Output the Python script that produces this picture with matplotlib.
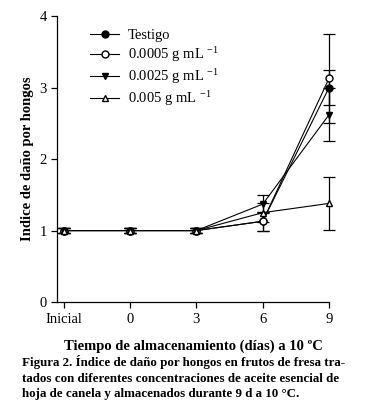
import matplotlib
matplotlib.use("Agg")
import matplotlib.pyplot as plt

plt.rcParams['font.family'] = ['Liberation Serif', 'DejaVu Serif']
plt.rcParams['mathtext.fontset'] = 'custom'
plt.rcParams['mathtext.rm'] = 'Liberation Serif'
plt.rcParams['mathtext.it'] = 'Liberation Serif:italic'

# data
x_labels = ["Inicial", "0", "3", "6", "9"]
testigo = [1.0, 1.0, 1.0, 1.13, 3.0]
testigo_err = [0.03, 0.03, 0.03, 0.13, 0.25]
c0005 = [1.0, 1.0, 1.0, 1.13, 3.13]
c0005_err = [0.03, 0.03, 0.03, 0.13, 0.62]
c0025 = [1.0, 1.0, 1.0, 1.37, 2.62]
c0025_err = [0.03, 0.03, 0.03, 0.13, 0.37]
c005 = [1.0, 1.0, 1.0, 1.25, 1.38]
c005_err = [0.03, 0.03, 0.03, 0.13, 0.37]

fig = plt.figure(figsize=(3.71, 4.11), dpi=100)
ax = fig.add_axes((0.154, 0.265, 0.733, 0.696))

xs = list(range(len(x_labels)))
series = [
    (testigo, testigo_err, 'o', 'k', "Testigo"),
    (c0005, c0005_err, 'o', 'w', "0.0005 g mL $^{\\mathrm{-1}}$"),
    (c0025, c0025_err, 'v', 'k', "0.0025 g mL $^{\\mathrm{-1}}$"),
    (c005, c005_err, '^', 'w', "0.005 g mL $^{\\mathrm{-1}}$"),
]
handles = []
for vals, err, m, fc, lab in series:
    c = ax.errorbar(xs, vals, yerr=err, marker=m, color='k', mfc=fc, mec='k',
                    ms=5, lw=0.8, elinewidth=0.9, capsize=4, capthick=0.9,
                    label=lab, clip_on=False)
    for art in c.get_children():
        art.set_clip_on(False)
    handles.append(c.lines[0])

ax.set_xlim(-0.1, 4.0)
ax.set_ylim(0, 4)
ax.set_xticks(xs)
ax.set_xticklabels(x_labels)
ax.set_yticks([0, 1, 2, 3, 4])
ax.spines['top'].set_visible(False)
ax.spines['right'].set_visible(False)
ax.tick_params(labelsize=10.5, direction='out', length=4, width=0.9)
for s in ['left', 'bottom']:
    ax.spines[s].set_linewidth(0.9)

ax.set_ylabel("Indice de daño por hongos", fontsize=10.5, fontweight='bold')
ax.set_xlabel("Tiempo de almacenamiento (días) a 10 ºC", fontsize=10.5,
              fontweight='bold', labelpad=10)

ax.legend(handles, [s[4] for s in series], loc='upper left',
          bbox_to_anchor=(0.1, 0.975), frameon=False,
          fontsize=10.5, handlelength=2.0, handletextpad=0.6,
          labelspacing=0.2, borderaxespad=0)

caption = ("Figura 2. Índice de daño por hongos en frutos de fresa tra-\n"
           "tados con diferentes concentraciones de aceite esencial de\n"
           "hoja de canela y almacenados durante 9 d a 10 °C.")
fig.text(0.058, 0.136, caption, fontsize=9.4, fontweight='bold',
         va='top', ha='left', linespacing=1.4)

fig.savefig("out.png", dpi=100)
